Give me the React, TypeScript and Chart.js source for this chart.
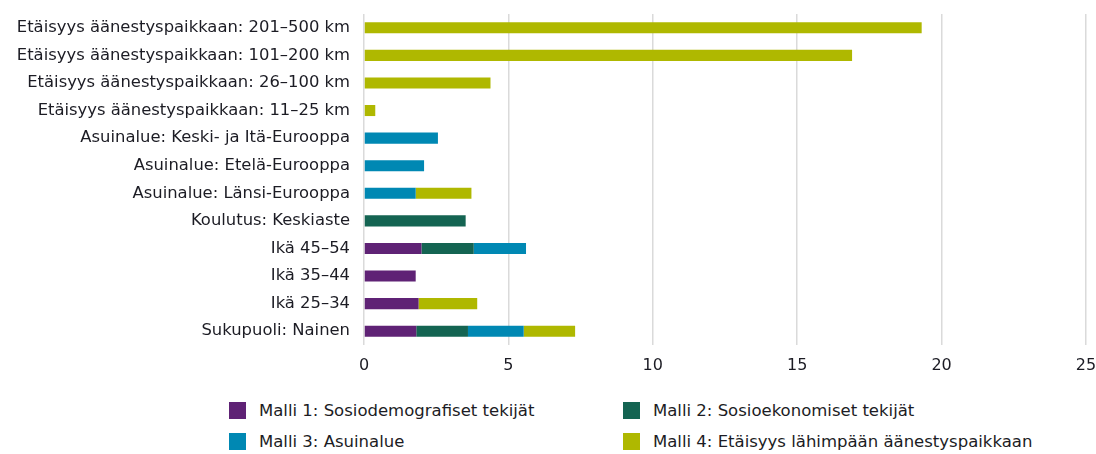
import React, { useEffect, useRef } from "react";
import { Chart, registerables } from "chart.js";

Chart.register(...registerables);

const categories = [
  "Etäisyys äänestyspaikkaan: 201–500 km",
  "Etäisyys äänestyspaikkaan: 101–200 km",
  "Etäisyys äänestyspaikkaan: 26–100 km",
  "Etäisyys äänestyspaikkaan: 11–25 km",
  "Asuinalue: Keski- ja Itä-Eurooppa",
  "Asuinalue: Etelä-Eurooppa",
  "Asuinalue: Länsi-Eurooppa",
  "Koulutus: Keskiaste",
  "Ikä 45–54",
  "Ikä 35–44",
  "Ikä 25–34",
  "Sukupuoli: Nainen",
];

const seriesNames = [
  "Malli 1: Sosiodemografiset tekijät",
  "Malli 2: Sosioekonomiset tekijät",
  "Malli 3: Asuinalue",
  "Malli 4: Etäisyys lähimpään äänestyspaikkaan",
];

const malli1 = [null, null, null, null, null, null, null, null, 1.99, 1.79, 1.89, 1.81];
const malli2 = [null, null, null, null, null, null, null, 3.52, 1.81, null, null, 1.79];
const malli3 = [null, null, null, null, 2.56, 2.08, 1.79, null, 1.81, null, null, 1.93];
const malli4 = [19.31, 16.9, 4.38, 0.39, null, null, 1.93, null, null, null, 2.03, 1.78];

const colors = ["#5f2275", "#146452", "#0088b3", "#afb800"];
const xMin = 0;
const xMax = 25;
const xStep = 5;

const FONT = "'DejaVu Sans', sans-serif";
const TEXT = "#1c1c24";

export default function App() {
  const ref = useRef<HTMLCanvasElement>(null);
  useEffect(() => {
    document.body.style.margin = "0";
    const all = [malli1, malli2, malli3, malli4];
    const chart = new Chart(ref.current!, {
      type: "bar",
      data: {
        labels: categories,
        datasets: all.map((d, i) => ({
          label: seriesNames[i],
          data: d,
          backgroundColor: colors[i],
          borderWidth: 0,
          categoryPercentage: 0.8,
          barPercentage: 0.5,
        })),
      },
      options: {
        indexAxis: "y",
        animation: false,
        responsive: false,
        maintainAspectRatio: false,
        layout: { padding: { top: 14, right: 10, left: 0, bottom: 0 } },
        plugins: { legend: { display: false }, tooltip: { enabled: false } },
        scales: {
          x: {
            stacked: true,
            min: xMin,
            max: xMax,
            ticks: {
              stepSize: xStep,
              color: TEXT,
              font: { family: FONT, size: 16 },
              padding: 11,
            },
            grid: { color: "#dadada", lineWidth: 1.5, drawTicks: false },
            border: { display: false },
            afterFit: (s: any) => {
              s.height = 35;
              s.paddingLeft = 0;
              s.paddingRight = 0;
            },
          },
          y: {
            stacked: true,
            grid: { display: false, drawTicks: false },
            border: { display: false },
            ticks: {
              color: TEXT,
              font: { family: FONT, size: 16.4 },
              padding: 14,
            },
            afterFit: (s: any) => {
              s.width = 364;
              s.paddingTop = 0;
              s.paddingBottom = 0;
            },
          },
        },
      },
    } as any);
    return () => chart.destroy();
  }, []);

  const legendPos = [
    { x: 229, y: 402 },
    { x: 623, y: 402 },
    { x: 229, y: 433 },
    { x: 623, y: 433 },
  ];

  return (
    <div style={{ position: "relative", width: 1096, height: 454, background: "#fff" }}>
      <canvas ref={ref} width={1096} height={380} style={{ display: "block" }} />
      {seriesNames.map((n, i) => (
        <div
          key={n}
          style={{
            position: "absolute",
            left: legendPos[i].x,
            top: legendPos[i].y,
            display: "flex",
            alignItems: "center",
            height: 17,
            fontFamily: FONT,
            fontSize: 16.5,
            color: TEXT,
            whiteSpace: "nowrap",
          }}
        >
          <span style={{ width: 17, height: 17, background: colors[i], display: "inline-block", marginRight: 13, flex: "none" }} />
          <span>{n}</span>
        </div>
      ))}
    </div>
  );
}
